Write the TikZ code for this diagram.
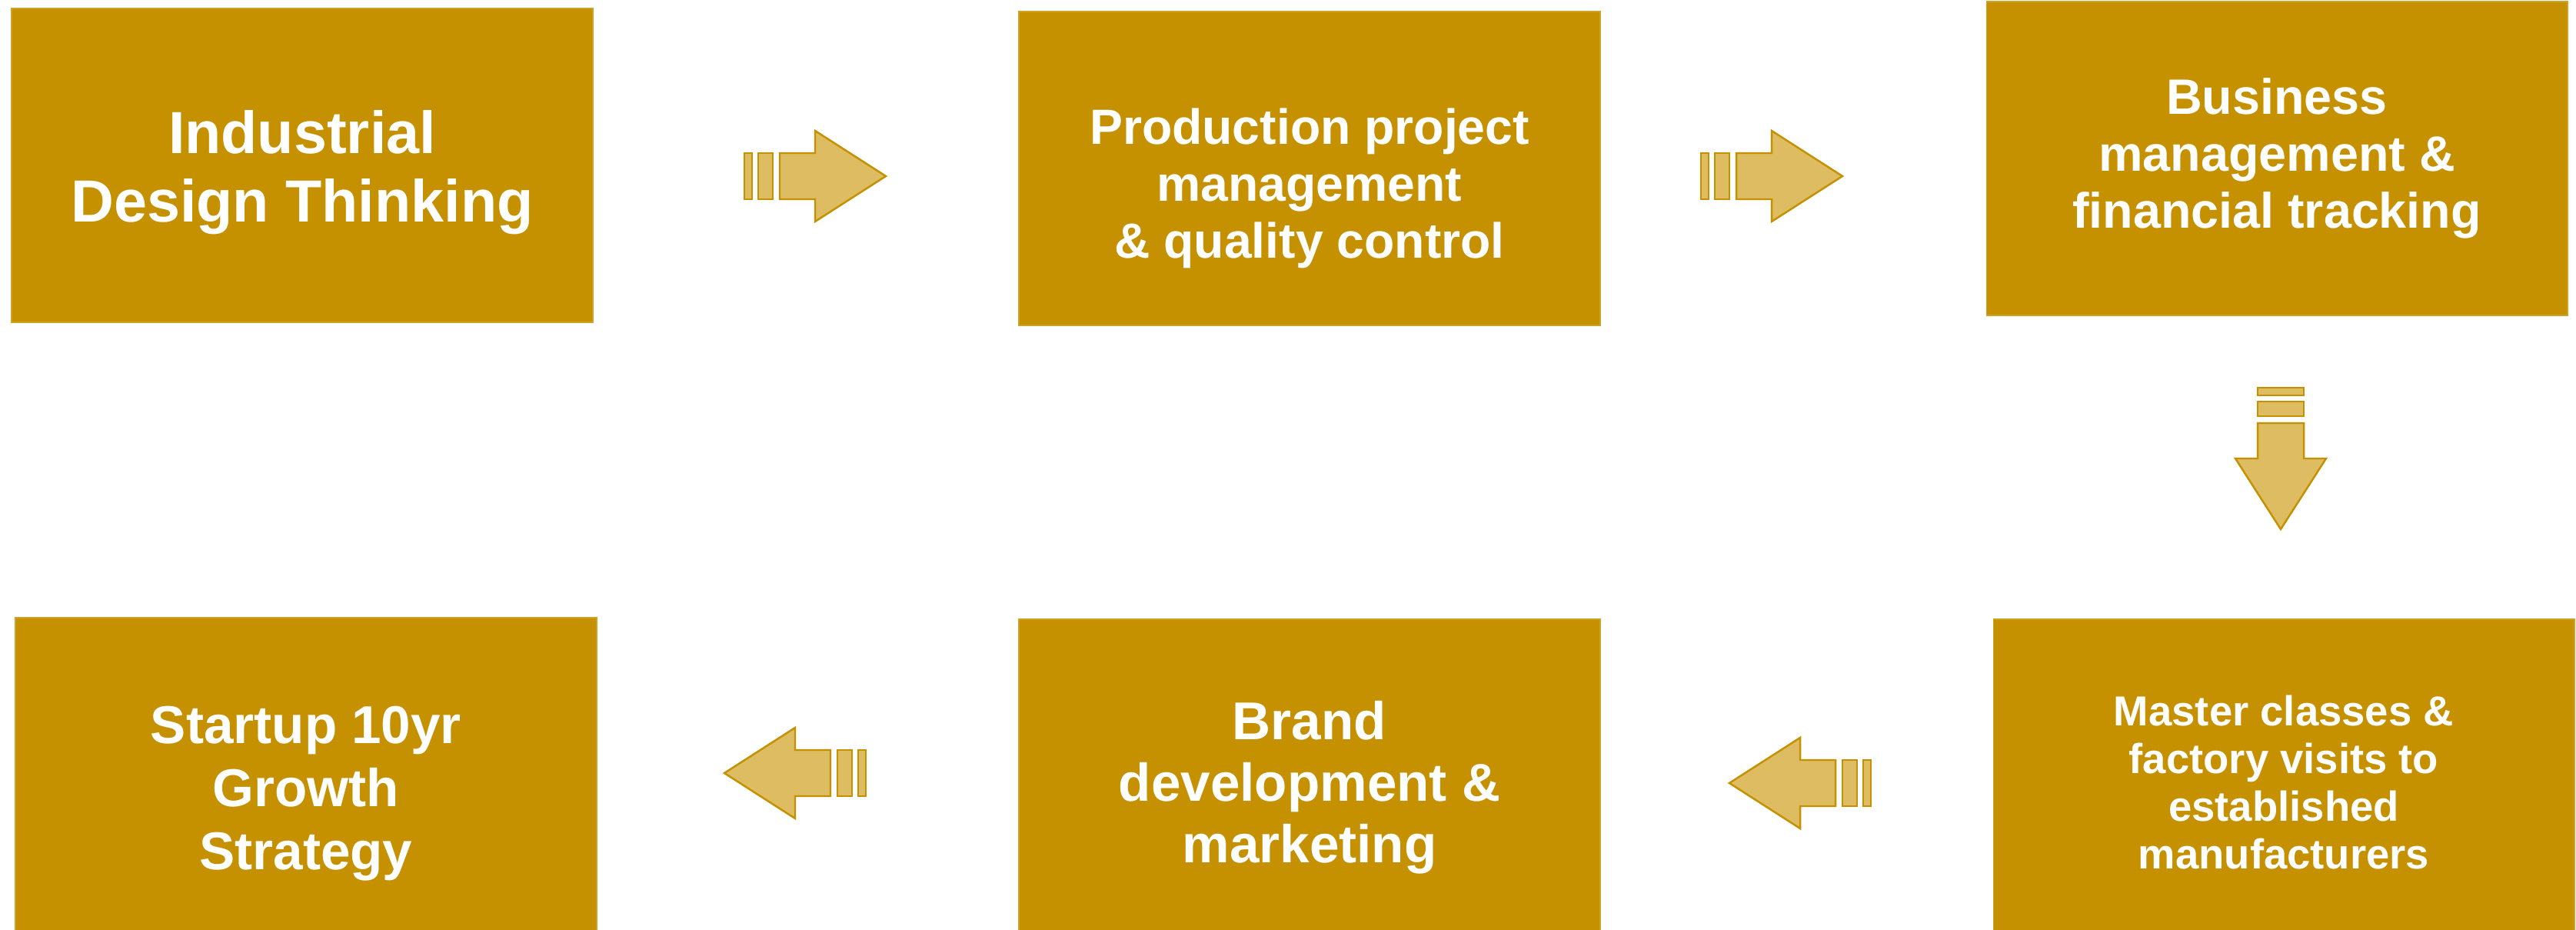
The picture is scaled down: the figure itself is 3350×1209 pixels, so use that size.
\documentclass[tikz,border=0pt]{standalone}
\usepackage{fontspec}
\setmainfont{Liberation Sans}
\usepackage{tikz}
\usetikzlibrary{positioning,calc}
\definecolor{ochre}{HTML}{C59100}
\definecolor{sand}{HTML}{DDBC62}
\tikzset{
  stage/.style={rectangle, fill=ochre, draw=ochre!85!white, line width=0.3pt,
                minimum width=75.6mm, minimum height=40.8mm, inner sep=0pt},
  txt/.style n args={3}{align=center, text=white, inner sep=0pt, yshift=-#3,
                        font=\bfseries\fontsize{#1}{#2}\selectfont},
  blockarrow/.style={fill=sand, draw=ochre, line width=0.7pt, line join=miter},
  stripearrow/.pic={
    \path[blockarrow] (-92,-30) rectangle (-82,30);
    \path[blockarrow] (-74,-30) rectangle (-55,30);
    \path[blockarrow] (-46,-30) -- (0,-30) -- (0,-59) -- (92,0) -- (0,59) -- (0,30) -- (-46,30) -- cycle;
  },
}
\begin{document}
\begin{tikzpicture}[x=0.1mm,y=-0.1mm]
\useasboundingbox (0,0) rectangle (3350,1209);
% top row
\node[stage, label={[txt={22}{25.5}{0.9mm}]center:{Industrial\\Design Thinking}}] (idt) at (393,215) {};
\node[stage, label={[txt={18.3}{21}{2.6mm}]center:{Production project\\management\\\& quality control}}] (ppm) at (1703,219) {};
\node[stage, label={[txt={18.4}{21}{0mm}]center:{Business\\management \&\\financial tracking}}] (bmf) at (2961,206) {};
% bottom row
\node[stage, label={[txt={15.5}{17.7}{0.8mm}]center:{Master classes \&\\factory visits to\\established\\manufacturers}}] (mcf) at (2970,1009) {};
\node[stage, label={[txt={19.7}{22.8}{1.5mm}]center:{Brand\\development \&\\marketing}}] (bdm) at (1703,1009) {};
\node[stage, label={[txt={19.7}{23.3}{2.5mm}]center:{Startup 10yr\\Growth\\Strategy}}] (sgs) at (398,1007) {};
% arrows
\pic (a1) at (1060,229) {stripearrow};
\pic (a2) at (2304,229) {stripearrow};
\pic[rotate=-90] (a3) at (2966,596) {stripearrow};
\pic[rotate=180] (a4) at (2341,1018) {stripearrow};
\pic[rotate=180] (a5) at (1034,1005) {stripearrow};
\end{tikzpicture}
\end{document}
